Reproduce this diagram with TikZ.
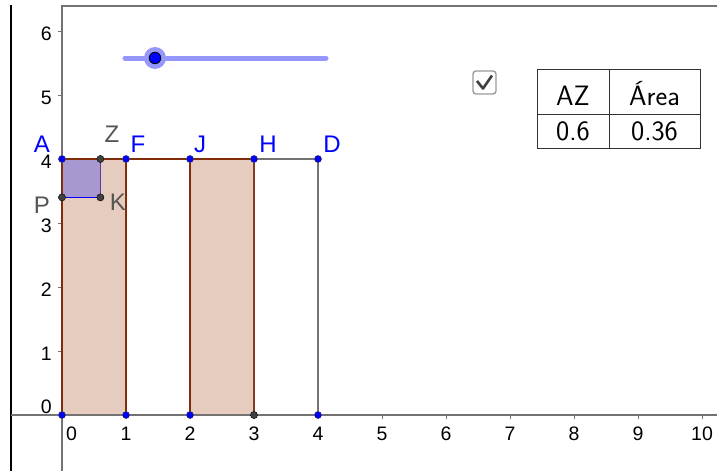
\documentclass[tikz,border=0pt]{standalone}
\usepackage{fontspec}
\setmainfont{Liberation Sans}
\definecolor{brn}{RGB}{130,45,10}
\definecolor{brnfill}{RGB}{229,204,191}
\definecolor{sqfill}{RGB}{168,152,208}
\definecolor{sqedge}{RGB}{110,50,160}
\definecolor{ptblue}{RGB}{0,0,255}
\definecolor{ptgray}{RGB}{64,64,64}
\definecolor{lblgray}{RGB}{85,85,85}
\definecolor{axgray}{RGB}{115,115,115}
\definecolor{slidercol}{RGB}{150,150,255}
\begin{document}
\begin{tikzpicture}[x=1pt,y=-1pt,
  axisline/.style={axgray,line width=1.1pt},
  tickline/.style={axgray,line width=0.8pt},
  ticklbl/.style={font=\fontsize{19.5}{21}\selectfont,inner sep=0pt},
  bluelbl/.style={text=ptblue,font=\fontsize{24}{26}\selectfont,inner sep=0pt},
  graylbl/.style={text=lblgray,font=\fontsize{24}{26}\selectfont,inner sep=0pt},
  bluept/.style={fill=ptblue,draw=black!70,line width=0.4pt},
  graypt/.style={fill=ptgray,draw=black,line width=0.4pt},
  edgebrn/.style={brn,line width=1.1pt},
  edgegray/.style={axgray,line width=1.1pt},
  tabtxt/.style={font=\sffamily\fontsize{28}{30}\selectfont,inner sep=0pt,anchor=base}
]
\useasboundingbox (0,0) rectangle (717,471);

% frame
\draw[black,line width=1.6pt] (11,5) -- (11,471);
\draw[axgray,line width=1.3pt] (62,6) -- (717,6);

% geometry in graph units
\begin{scope}[shift={(62,415)},x=64pt,y=64pt]
  \coordinate (O) at (0,0);
  \coordinate (B1) at (1,0);
  \coordinate (B2) at (2,0);
  \coordinate (B3) at (3,0);
  \coordinate (B4) at (4,0);
  \coordinate (A) at (0,4);
  \coordinate (F) at (1,4);
  \coordinate (J) at (2,4);
  \coordinate (H) at (3,4);
  \coordinate (D) at (4,4);
  \coordinate (Z) at (0.6,4);
  \coordinate (P) at (0,3.4);
  \coordinate (K) at (0.6,3.4);
  \fill[brnfill] (O) rectangle (F);
  \fill[brnfill] (B2) rectangle (H);
  \fill[sqfill] (P) rectangle (Z);
\end{scope}

% axes
\draw[axisline] (11,415) -- (717,415);
\draw[axisline] (62,5) -- (62,471);
\foreach \k in {1,...,10} {
  \draw[tickline] ({62+64*\k},415) -- ({62+64*\k},419);
}
\foreach \k in {1,...,6} {
  \draw[tickline] (58,{415-64*\k}) -- (62,{415-64*\k});
}
% tick labels
\node[ticklbl,anchor=north west] (x0) at (66,427) {0};
\foreach \k in {1,...,10} {
  \node[ticklbl,anchor=north] (x\k) at ({62+64*\k},427) {\k};
}
\node[ticklbl,anchor=east] (y0) at (52,407) {0};
\foreach \k in {1,...,6} {
  \node[ticklbl,anchor=east] (y\k) at (52,{417.5-64*\k}) {\k};
}

% edges
\draw[edgebrn] (O) -- (A);
\draw[edgebrn] (B1) -- (F);
\draw[edgebrn] (B2) -- (J);
\draw[edgebrn,draw=brn!80!gray] (B3) -- (H);
\draw[edgebrn] (A) -- (H);
\draw[edgegray] (H) -- (D) -- (B4);
\draw[sqedge,line width=1.1pt] (Z) -- (K);
\draw[ptblue,line width=1.1pt] (P) -- (K);

% points
\foreach \p in {A,F,J,H,D,O,B1,B2,B4} { \fill[bluept] (\p) circle (3.6pt); }
\foreach \p in {Z,P,K,B3} { \fill[graypt] (\p) circle (3.6pt); }

% point labels
\node[bluelbl] (lA) at (42,144) {A};
\node[graylbl] (lZ) at (112,134) {Z};
\node[bluelbl] (lF) at (138,144) {F};
\node[bluelbl] (lJ) at (200,144) {J};
\node[bluelbl] (lH) at (268,144) {H};
\node[bluelbl] (lD) at (332,144) {D};
\node[graylbl] (lP) at (42,205) {P};
\node[graylbl] (lK) at (118,202) {K};

% slider
\coordinate (s1) at (125,58);
\coordinate (s2) at (326,58);
\draw[slidercol,line width=5pt,line cap=round] (s1) -- (s2);
\node[circle,fill=slidercol,minimum size=22pt,inner sep=0pt] (halo) at (155,58) {};
\node[circle,fill=ptblue,draw=black,line width=0.8pt,minimum size=11.5pt,inner sep=0pt] (knob) at (halo) {};

% checkbox
\node[draw=gray!80,line width=1.4pt,rounded corners=3pt,minimum size=23pt,inner sep=0pt] (chk) at (484.5,82.5) {};
\draw[black!75,line width=2.6pt,line join=round] (477,81) -- (483,88.5) -- (492,75.5);

% table
\draw[black!80,line width=1pt] (537,69) rectangle (700,148);
\draw[black!80,line width=1pt] (609,69) -- (609,148);
\draw[black!80,line width=1pt] (537,114) -- (700,114);
\node[tabtxt] (t1) at (573,105) {AZ};
\node[tabtxt] (t2) at (654.5,105) {Área};
\node[tabtxt] (t3) at (573,140) {0.6};
\node[tabtxt] (t4) at (654.5,140) {0.36};
\end{tikzpicture}
\end{document}
